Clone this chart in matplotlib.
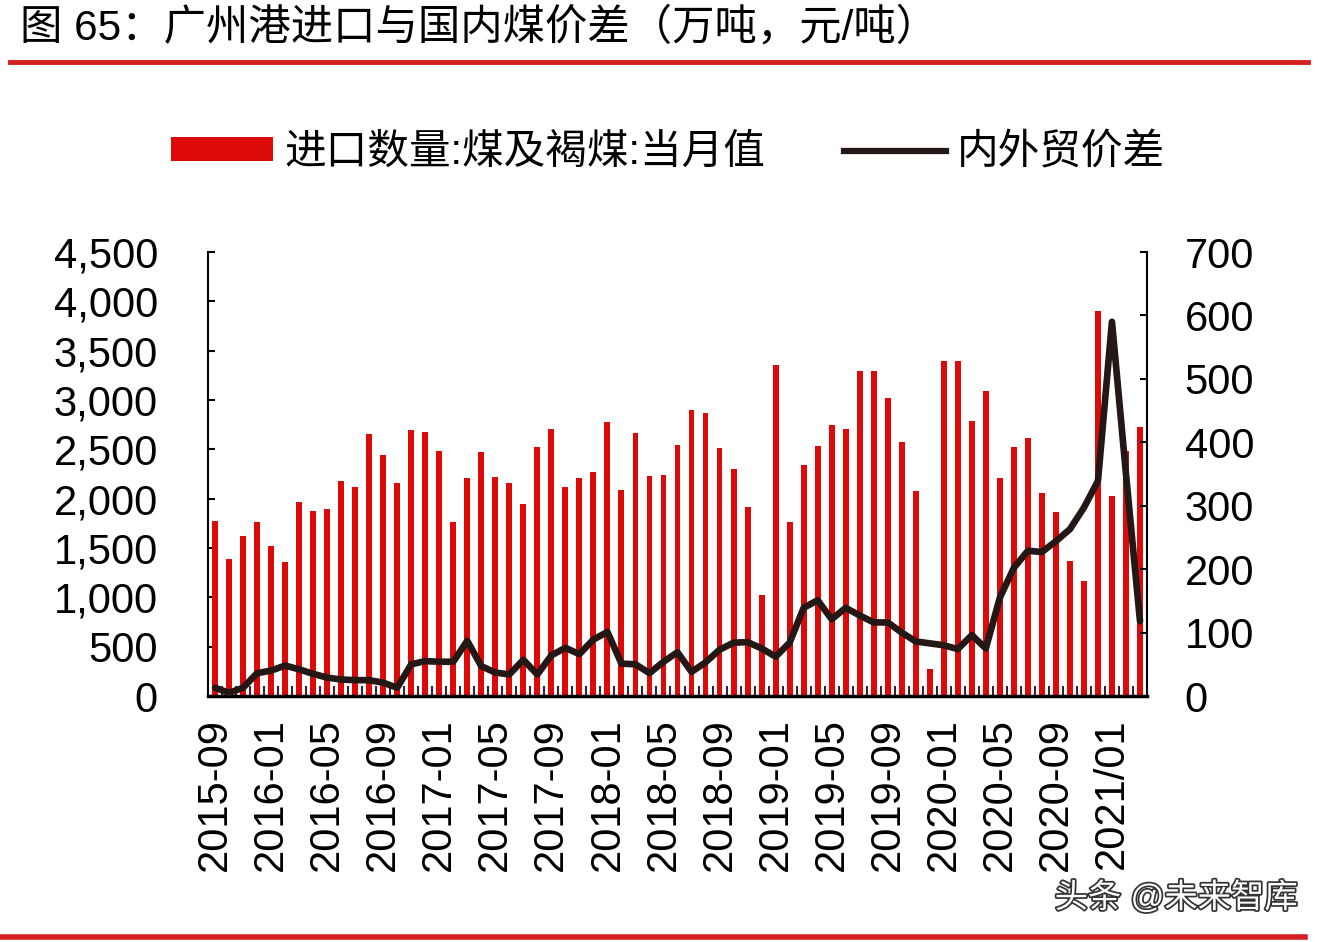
import numpy as np
import matplotlib
matplotlib.use("Agg")
import matplotlib.pyplot as plt
import matplotlib.patheffects as pe
from matplotlib.patches import Patch
from matplotlib.lines import Line2D

plt.rcParams['font.family'] = ['Liberation Sans', 'Noto Sans CJK SC', 'DejaVu Sans']

# monthly data, 2015-09 .. 2021-03
imports = [1770, 1390, 1620, 1760, 1520, 1355, 1970, 1875, 1900, 2175,
           2115, 2655, 2440, 2155, 2695, 2680, 2485, 1765, 2205, 2475,
           2215, 2155, 1945, 2525, 2705, 2120, 2205, 2275, 2775, 2090,
           2670, 2225, 2235, 2540, 2900, 2870, 2510, 2305, 1915, 1020,
           3350, 1760, 2340, 2530, 2745, 2705, 3290, 3290, 3025, 2570,
           2080, 275, 3395, 3395, 2785, 3090, 2205, 2525, 2610, 2060,
           1865, 1370, 1170, 3905, 2030, 2480, 2730]
spread = [13, 5, 13, 36, 40, 48, 42, 35, 29, 26,
          25, 25, 21, 13, 50, 55, 54, 54, 87, 47,
          37, 34, 57, 34, 64, 76, 66, 89, 101, 51,
          50, 36, 54, 69, 38, 53, 73, 84, 85, 75,
          62, 84, 139, 151, 121, 139, 127, 116, 116, 100,
          86, 83, 80, 74, 96, 75, 155, 202, 229, 227,
          244, 263, 297, 339, 590, 350, 118]
tick_labels = ['2015-09', '2016-01', '2016-05', '2016-09', '2017-01', '2017-05',
               '2017-09', '2018-01', '2018-05', '2018-09', '2019-01', '2019-05',
               '2019-09', '2020-01', '2020-05', '2020-09', '2021/01']

red = '#DD0A0A'
dark = '#231815'
fs = 30

fig = plt.figure(figsize=(13.24, 9.42), dpi=100)
ax = fig.add_axes([208 / 1324, 1 - 696 / 942, 939 / 1324, 444 / 942])
x = np.arange(len(imports))
ax.bar(x, imports, width=0.42, color=red, zorder=2)
ax.set_xlim(-0.5, len(imports) - 0.5)
ax.set_ylim(0, 4500)
ax.set_yticks(range(0, 4501, 500))
ax.set_yticklabels([f'{v:,}' for v in range(0, 4501, 500)])
ax.set_xticks(x[::4])
ax.set_xticklabels(tick_labels, rotation=90, va='top', ha='center')
ax.set_xticks(np.arange(0.5, len(imports) - 1, 1), minor=True)
ax.tick_params(axis='x', which='major', length=0, pad=16, labelsize=fs)
ax.tick_params(axis='x', which='minor', direction='in', length=7, width=1.5, color='#3a2030')
ax.tick_params(axis='y', direction='in', length=5, width=1.5, pad=36, labelsize=fs)
for s in ['top', 'right']:
    ax.spines[s].set_visible(False)
ax.spines['left'].set_linewidth(1.5)
ax.spines['bottom'].set_linewidth(2.5)

ax2 = ax.twinx()
ax2.plot(x, spread, color=dark, lw=4.8, solid_joinstyle='round', solid_capstyle='round')
ax2.set_ylim(0, 700)
ax2.set_yticks(range(0, 701, 100))
ax2.tick_params(axis='y', direction='in', length=5, width=1.5, pad=27, labelsize=fs)
ax2.spines['top'].set_visible(False)
ax2.spines['left'].set_visible(False)
ax2.spines['bottom'].set_visible(False)
ax2.spines['right'].set_linewidth(1.5)

handles = [Patch(facecolor=red, edgecolor='none'), Line2D([], [], color=dark, lw=4.5)]
fig.legend(handles, ['进口数量:煤及褐煤:当月值', '内外贸价差'], loc='center',
           bbox_to_anchor=(668 / 1324, 1 - 153 / 942), ncol=2, frameon=False,
           fontsize=fs, handlelength=2.45, handleheight=0.5, handletextpad=0.25,
           columnspacing=1.9)

fig.text(20 / 1324, 1 - 28 / 942, '图 65：广州港进口与国内煤价差（万吨，元/吨）',
         fontsize=30.5, va='center', ha='left')
fig.add_artist(Line2D([10 / 1324, 1308 / 1324], [1 - 62 / 942] * 2, color='#D42020', lw=3.5))
fig.add_artist(Line2D([0, 1305 / 1324], [1 - 937 / 942] * 2, color='#D42020', lw=4))

fig.text(1298 / 1324, 1 - 898 / 942, '头条 @未来智库', fontsize=24, ha='right', va='center',
         color='white', path_effects=[pe.withStroke(linewidth=2.5, foreground='#333333')])

fig.savefig('out.png', dpi=100)
